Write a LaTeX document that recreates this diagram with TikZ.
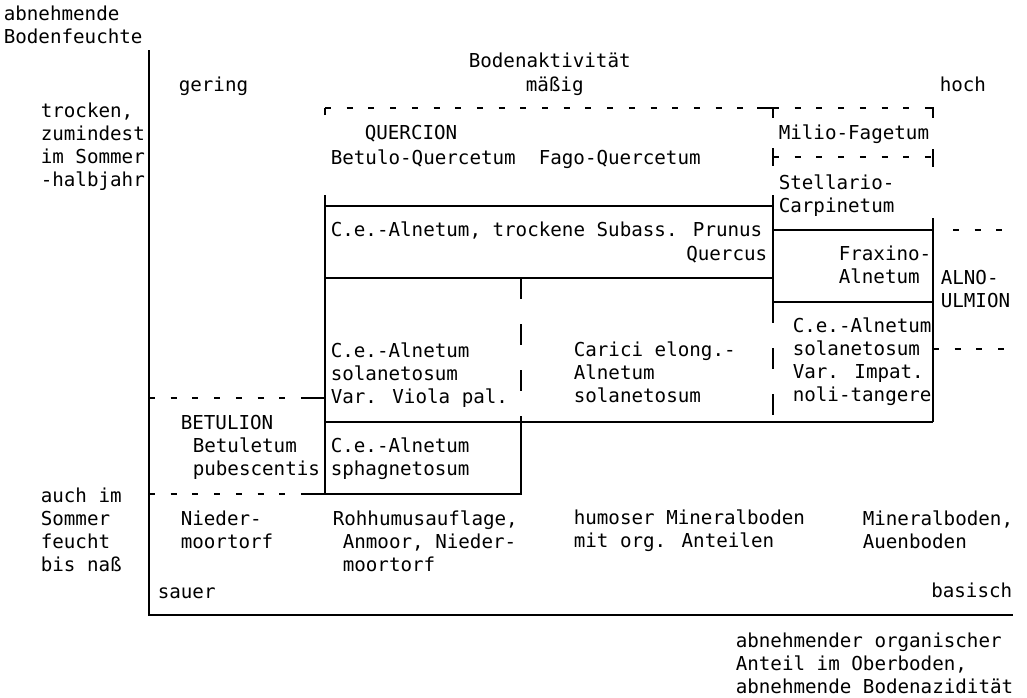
\documentclass[tikz,border=0pt]{standalone}
\usepackage{fontspec}
\newfontfamily\typewriter{DejaVu Sans Mono}
\tikzset{
    label/.style={anchor=base west, inner sep=0pt, align=left,
        font=\typewriter\fontsize{19.2}{23}\selectfont},
    rlabel/.style={label, anchor=base east, align=right},
    typedash/.style={dash pattern=on 6pt off 15.7pt},
    brokenline/.style={dash pattern=on 21pt off 25pt},
}
\begin{document}
\begin{tikzpicture}[x=1pt,y=-1pt,line width=1.6pt]
\useasboundingbox (0,0) rectangle (1027,697);
% axes (multi-line labels sit on the baseline of their last line)
\draw (149,50)--(149,615)--(1013,615);
\node[label] (moist) at (3,43) {abnehmende\\Bodenfeuchte};
\node[label] (activity) at (468,67) {Bodenaktivität};
\node[label] (low) at (178,91) {gering};
\node[label] (medium) at (525,91) {mäßig};
\node[label] (high) at (939,91) {hoch};
\node[label] (dry) at (40,186) {trocken,\\zumindest\\im Sommer\\-halbjahr};
\node[label] (wet) at (40,571) {auch im\\Sommer\\feucht\\bis naß};
% QUERCION
\draw (325,115)--(325,108);
\draw[typedash] (325,108)--(757,108);
\draw (757,108)--(773,108)--(773,118);
\draw[typedash] (773,108)--(933,108);
\draw (927,108)--(933,108)--(933,118);
\draw (773,148)--(773,166);
\draw[typedash] (773,157)--(933,157);
\draw (933,149)--(933,167);
\node[label] (quercion) at (364,139) {QUERCION};
\node[label] (betuloq) at (330,164) {Betulo-Quercetum};
\node[label] (fagoq) at (538,164) {Fago-Quercetum};
\node[label] (milio) at (778,139) {Milio-Fagetum};
\node[label] (stellario) at (778,212) {Stellario-\\Carpinetum};
% Alnus boxes
\draw (325,195)--(325,494);
\draw (773,195)--(773,302);
\draw[brokenline] (773,302)--(773,422);
\draw (325,206)--(773,206);
\draw (325,278)--(773,278);
\draw (773,230)--(933,230);
\draw (933,218)--(933,422);
\draw (773,302)--(933,302);
\draw (325,422)--(933,422);
\draw[brokenline] (521,278)--(521,422);
\draw (521,422)--(521,494)--(307,494);
\draw[typedash] (149,494)--(307,494);
\draw[typedash] (149,398)--(307,398);
\draw (307,398)--(325,398);
\draw[typedash] (953,230)--(1013,230);
\draw[typedash] (933,349)--(1013,349);
\node[label] (trockene) at (330,236) {C.e.-Alnetum, trockene Subass. Prunus};
\node[rlabel] (quercus) at (768,260) {Quercus};
\node[label] (fraxino) at (838,283) {Fraxino-\\Alnetum};
\node[label] (alno) at (940,307) {ALNO-\\ULMION};
\node[label] (viola) at (330,403) {C.e.-Alnetum\\solanetosum\\Var. Viola pal.};
\node[label] (carici) at (573,402) {Carici elong.-\\Alnetum\\solanetosum};
\node[label] (impat) at (792,401) {C.e.-Alnetum\\solanetosum\\Var. Impat.\\noli-tangere};
\node[label] (betulion) at (180,429) {BETULION};
\node[label] (betuletum) at (192,475) {Betuletum\\pubescentis};
\node[label] (sphag) at (330,475) {C.e.-Alnetum\\sphagnetosum};
% soils
\node[label] (niedermoor) at (180,548) {Nieder-\\moortorf};
\node[label] (rohhumus) at (332,525) {Rohhumusauflage,};
\node[label] (anmoor) at (342,571) {Anmoor, Nieder-\\moortorf};
\node[label] (humoser) at (573,547) {humoser Mineralboden\\mit org. Anteilen};
\node[label] (mineral) at (862,548) {Mineralboden,\\Auenboden};
\node[label] (sauer) at (157,598) {sauer};
\node[rlabel] (basisch) at (1013,597) {basisch};
\node[label] (organic) at (735,693) {abnehmender organischer\\Anteil im Oberboden,\\abnehmende Bodenazidität};
\end{tikzpicture}
\end{document}
